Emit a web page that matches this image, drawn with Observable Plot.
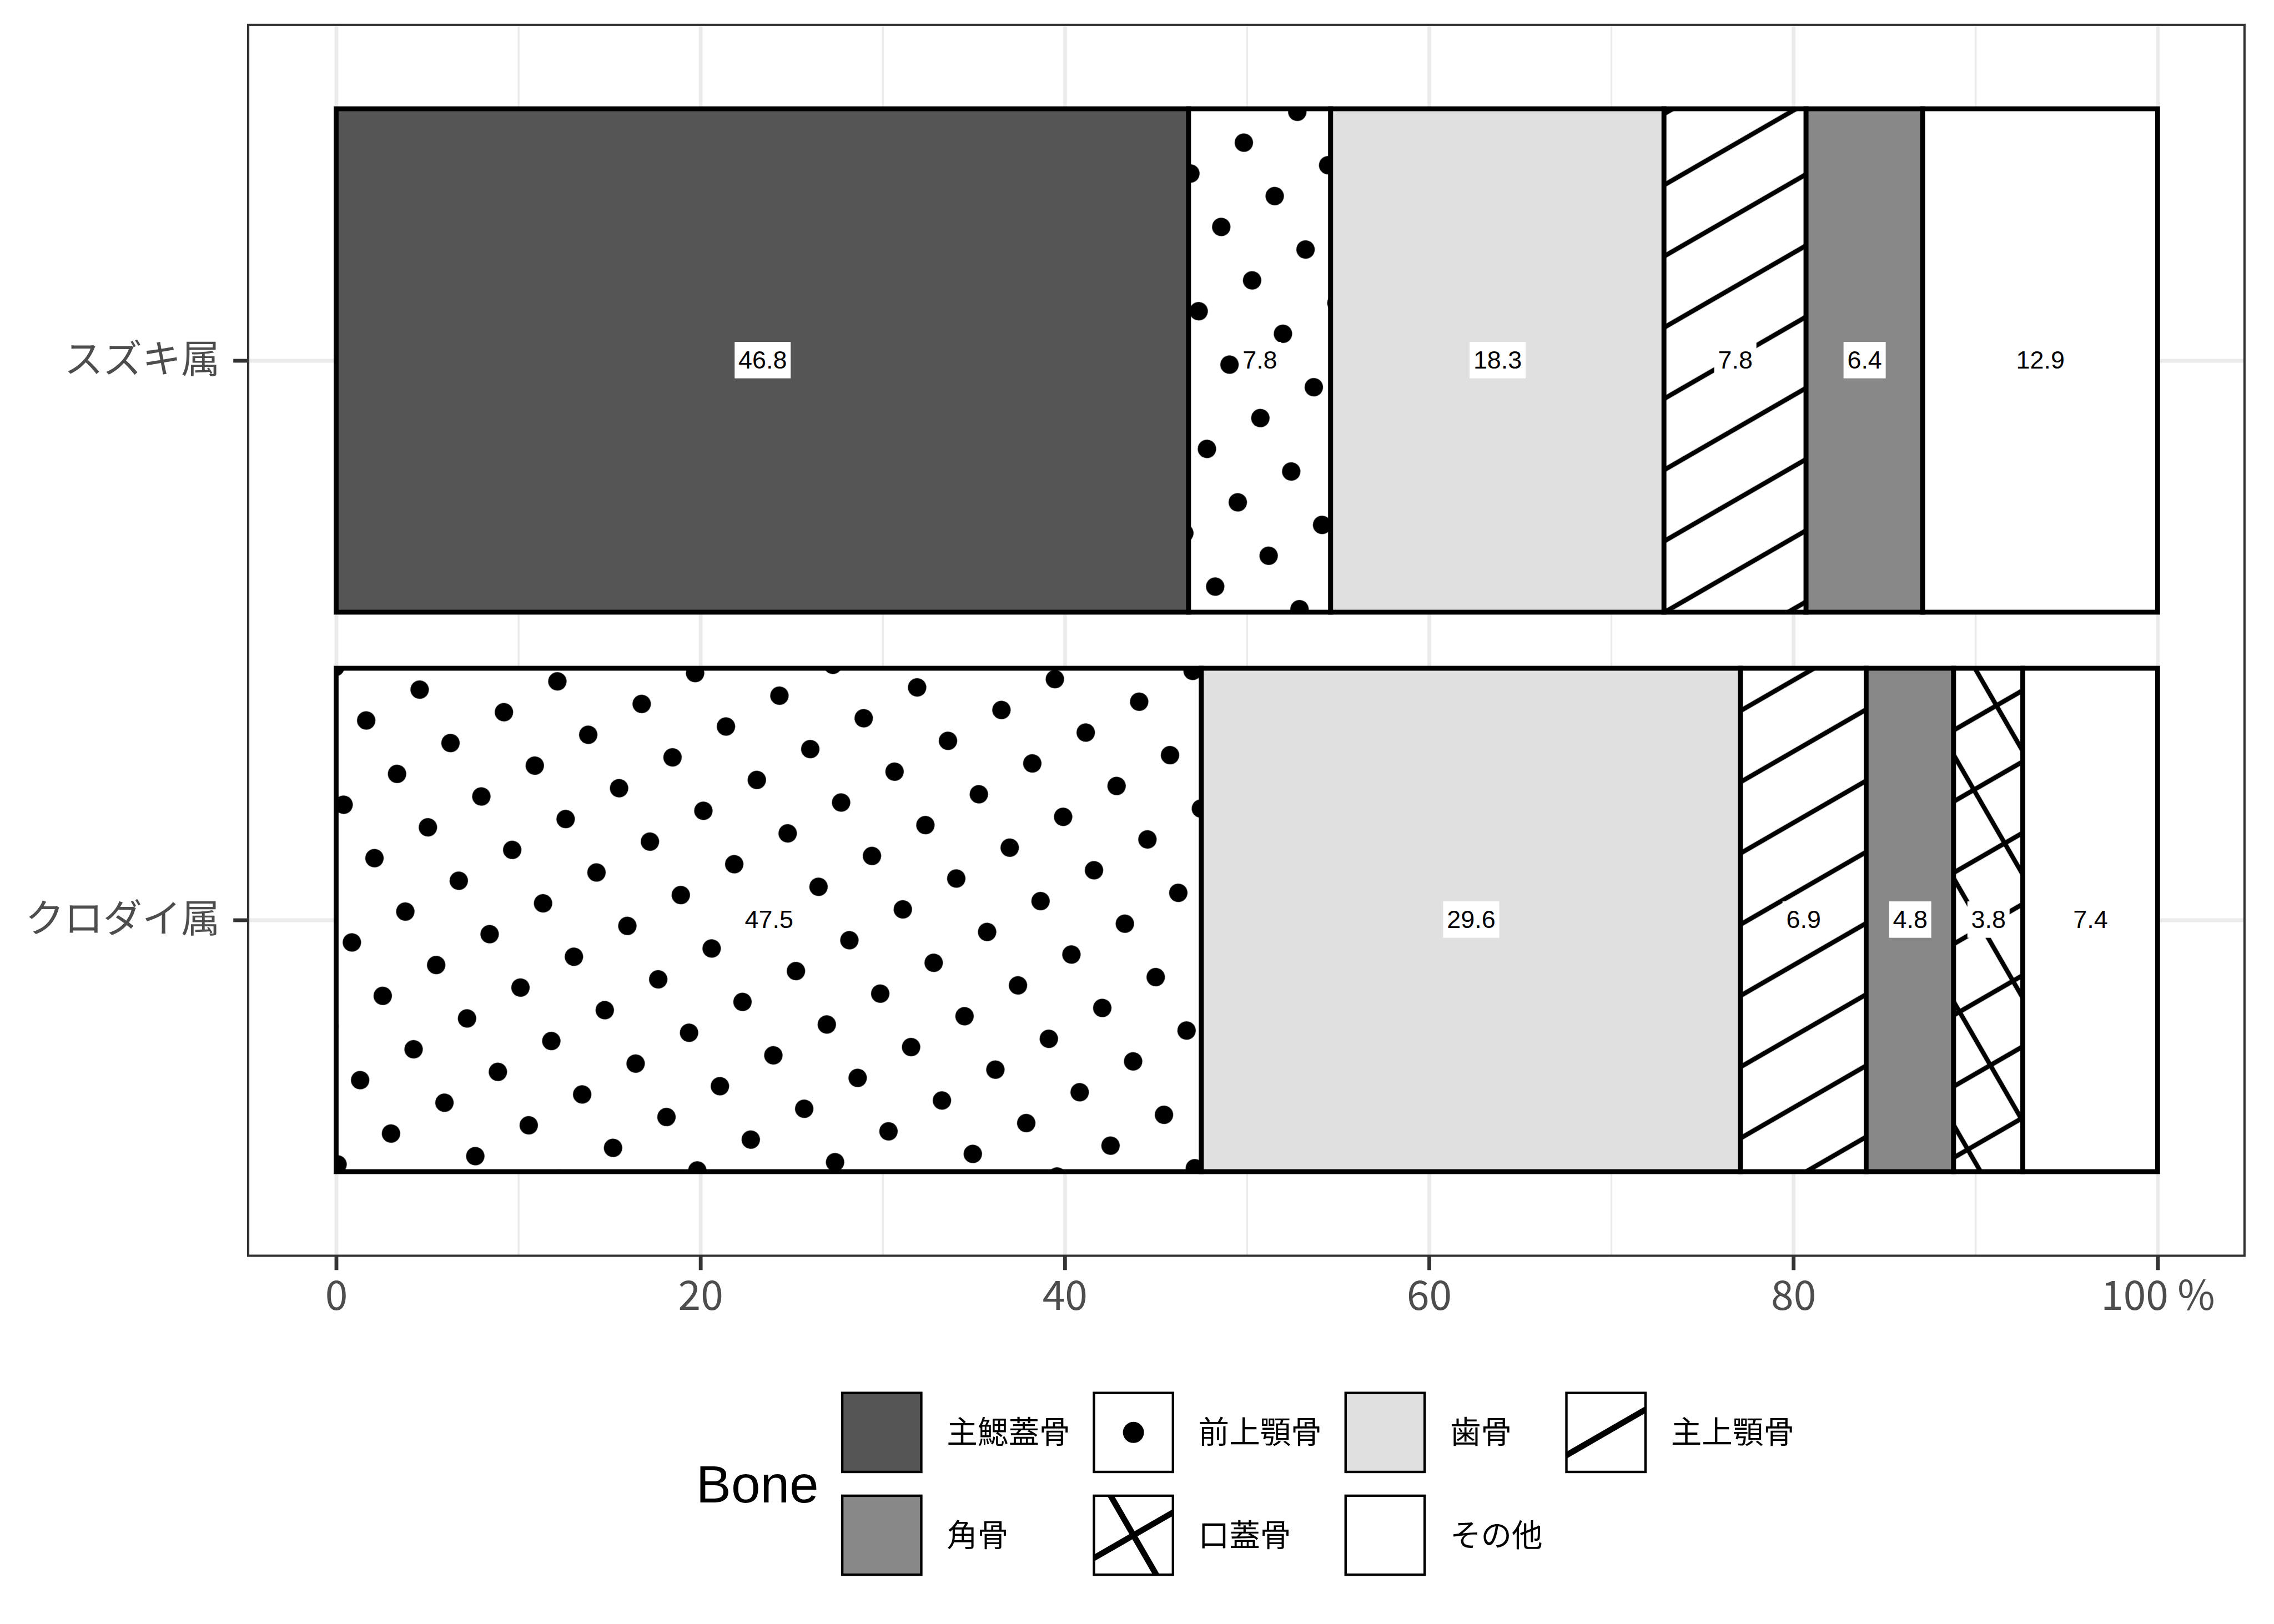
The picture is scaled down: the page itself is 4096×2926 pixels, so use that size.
<!DOCTYPE html>
<html><head><meta charset="utf-8">
<script src="https://cdn.jsdelivr.net/npm/d3@7"></script>
<script src="https://cdn.jsdelivr.net/npm/@observablehq/plot@0.6"></script>
<style>
html,body{margin:0;padding:0;background:#fff;}
#chart{width:4096px;}
#chart svg{display:block;}
</style></head><body><div id="chart"></div>
<script>
// ---- data ----
const genera = ["スズキ属", "クロダイ属"];
const bones = ["主鰓蓋骨", "前上顎骨", "歯骨", "主上顎骨", "角骨", "口蓋骨", "その他"];
const suzukiValues = [46.8, 7.8, 18.3, 7.8, 6.4, 0, 12.9];
const kurodaiValues = [0, 47.5, 29.6, 6.9, 4.8, 3.8, 7.4];
const xTicks = [0, 20, 40, 60, 80, 100];
const xTickLabels = ["0", "20", "40", "60", "80", "100 %"];
const xMinorTicks = [10, 30, 50, 70, 90];
const legendTitle = "Bone";

// ---- styles ----
const boneStyles = ["#555555", "dots", "#E0E0E0", "stripes", "#888888", "crosshatch", "#FFFFFF"];

const S = 0.975;
const W = 4096, H = 2440, TOTAL_H = 2926;
const panel = {left: 458 * S, right: 4146 * S, top: 45.5 * S, bottom: 2320 * S};
const xRange = [621 * S, 3986 * S];

const rows = [];
genera.forEach((g, gi) => {
  const vals = gi === 0 ? suzukiValues : kurodaiValues;
  bones.forEach((b, bi) => { if (vals[bi] > 0) rows.push({genus: g, bone: b, value: vals[bi]}); });
});
const fillOf = b => {
  const st = boneStyles[bones.indexOf(b)];
  return st.startsWith("#") ? st : `url(#pat-${st})`;
};

const plot = Plot.plot({
  width: W, height: H,
  marginLeft: panel.left, marginRight: W - panel.right,
  marginTop: panel.top, marginBottom: H - panel.bottom,
  style: {fontFamily: "'Noto Sans CJK JP', 'Noto Sans', sans-serif", background: "white", overflow: "visible"},
  x: {domain: [0, 100], range: xRange},
  y: {type: "band", domain: genera, range: [panel.top, panel.bottom], paddingInner: 0.1, paddingOuter: 0.15},
  color: {type: "identity"},
  marks: [
    Plot.gridX(xMinorTicks, {stroke: "#EBEBEB", strokeOpacity: 1, strokeWidth: 3.5 * S}),
    Plot.gridX(xTicks, {stroke: "#EBEBEB", strokeOpacity: 1, strokeWidth: 7 * S}),
    Plot.gridY(genera, {stroke: "#EBEBEB", strokeOpacity: 1, strokeWidth: 7 * S}),
    Plot.barX(rows, Plot.stackX({y: "genus", x: "value", z: "bone", order: bones,
      fill: d => fillOf(d.bone), stroke: "black", strokeWidth: 9 * S, inset: 0})),
    Plot.text(rows, Plot.stackX({y: "genus", x: "value", z: "bone", order: bones,
      text: d => d.value.toFixed(1), fontSize: 46 * S,
      fontFamily: "'Liberation Sans', Arial, sans-serif", fill: "black", className: "barlabel"})),
    Plot.frame({stroke: "#333333", strokeWidth: 4.2 * S}),
    Plot.axisX(xTicks, {tickFormat: d => xTickLabels[xTicks.indexOf(d)], tickSize: 27 * S, tickPadding: 20 * S,
      fontSize: 75 * S, stroke: "#333333", strokeWidth: 7 * S, fill: "#4D4D4D", label: null}),
    Plot.axisY({tickSize: 27 * S, tickPadding: 25 * S, fontSize: 72 * S,
      stroke: "#333333", strokeWidth: 7 * S, fill: "#4D4D4D", label: null})
  ]
});
document.getElementById("chart").appendChild(plot);

// ---- patterns (anchored at panel centre, 30°) ----
const svg = d3.select(plot);
const defs = svg.insert("defs", ":first-child");
const sp = 114 * S;
const pc = [(panel.left + panel.right) / 2, (panel.top + panel.bottom) / 2];
const tf = `translate(${pc[0]},${pc[1]}) rotate(-30)`;
function makePattern(id) {
  const p = defs.append("pattern").attr("id", id).attr("patternUnits", "userSpaceOnUse")
    .attr("x", -sp / 2).attr("y", -sp / 2).attr("width", sp).attr("height", sp)
    .attr("patternTransform", tf);
  p.append("rect").attr("width", sp).attr("height", sp).attr("fill", "white");
  return p;
}
const lw = 8.5 * S;
makePattern("pat-dots").append("circle").attr("cx", sp / 2).attr("cy", sp / 2).attr("r", 17 * S).attr("fill", "black");
makePattern("pat-stripes").append("line").attr("x1", -2).attr("x2", sp + 2).attr("y1", sp / 2).attr("y2", sp / 2)
  .attr("stroke", "black").attr("stroke-width", lw);
const ch = makePattern("pat-crosshatch");
ch.append("line").attr("x1", -2).attr("x2", sp + 2).attr("y1", sp / 2).attr("y2", sp / 2).attr("stroke", "black").attr("stroke-width", lw);
ch.append("line").attr("y1", -2).attr("y2", sp + 2).attr("x1", sp / 2).attr("x2", sp / 2).attr("stroke", "black").attr("stroke-width", lw);

// ---- white label boxes ----
const NS = "http://www.w3.org/2000/svg";
const labelTexts = Array.from(plot.querySelectorAll("text")).filter(t => {
  let g = t.parentNode;
  while (g && g !== plot) { if (g.classList && g.classList.contains("barlabel")) return true; if (g.getAttribute && g.getAttribute("aria-label") === "text") return true; g = g.parentNode; }
  return false;
});
labelTexts.forEach(t => {
  const b = t.getBBox();
  const px = 7 * S, py = 7.5 * S;
  const r = document.createElementNS(NS, "rect");
  r.setAttribute("x", b.x - px); r.setAttribute("y", b.y - py);
  r.setAttribute("width", b.width + 2 * px); r.setAttribute("height", b.height + 2 * py);
  r.setAttribute("fill", "white"); r.setAttribute("stroke", "none");
  const tr = t.getAttribute("transform");
  if (tr) r.setAttribute("transform", tr);
  t.parentNode.insertBefore(r, t);
});

// ---- legend ----
const LH = TOTAL_H - H;
const lg = d3.select("#chart").append("svg").attr("width", W).attr("height", LH)
  .style("font-family", "'Noto Sans CJK JP', 'Noto Sans', sans-serif");
const k = 146 * S;
const rowTops = [2574 * S - H, 2764 * S - H];
const firstCol = 1556 * S;
const gapKL = 47 * S, gapCol = 44 * S;
const labelSize = 57 * S;
lg.append("text").attr("x", 1286 * S).attr("y", 2742 * S - H).attr("dy", "0.36em")
  .attr("font-family", "'Liberation Sans', Arial, sans-serif").attr("font-size", 97 * S).attr("fill", "black")
  .text(legendTitle);
const nCol = 4;
const colW = new Array(nCol).fill(0);
const labels = bones.map((b, i) => {
  const t = lg.append("text").attr("font-size", labelSize).attr("fill", "black").attr("dy", "0.35em").text(b);
  colW[i % nCol] = Math.max(colW[i % nCol], t.node().getComputedTextLength());
  return t;
});
const colLeft = [firstCol];
for (let c = 1; c < nCol; c++) colLeft.push(colLeft[c - 1] + k + gapKL + colW[c - 1] + gapCol);
const klw = 11 * S;
bones.forEach((b, i) => {
  const cx0 = colLeft[i % nCol], cy0 = rowTops[Math.floor(i / nCol)];
  const st = boneStyles[i];
  const key = lg.append("svg").attr("x", cx0).attr("y", cy0).attr("width", k).attr("height", k);
  key.append("rect").attr("width", k).attr("height", k).attr("fill", st.startsWith("#") ? st : "white");
  const c = k / 2, L = k;
  const lineAt = ang => {
    const a = ang * Math.PI / 180;
    key.append("line").attr("x1", c - L * Math.cos(a)).attr("y1", c + L * Math.sin(a))
      .attr("x2", c + L * Math.cos(a)).attr("y2", c - L * Math.sin(a))
      .attr("stroke", "black").attr("stroke-width", klw);
  };
  if (st === "dots") key.append("circle").attr("cx", c).attr("cy", c).attr("r", 19.5 * S).attr("fill", "black");
  if (st === "stripes") lineAt(30);
  if (st === "crosshatch") { lineAt(30); lineAt(120); }
  lg.append("rect").attr("x", cx0).attr("y", cy0).attr("width", k).attr("height", k)
    .attr("fill", "none").attr("stroke", "black").attr("stroke-width", 4.5 * S);
  labels[i].attr("x", cx0 + k + gapKL).attr("y", cy0 + k / 2);
});
</script>
</body></html>
